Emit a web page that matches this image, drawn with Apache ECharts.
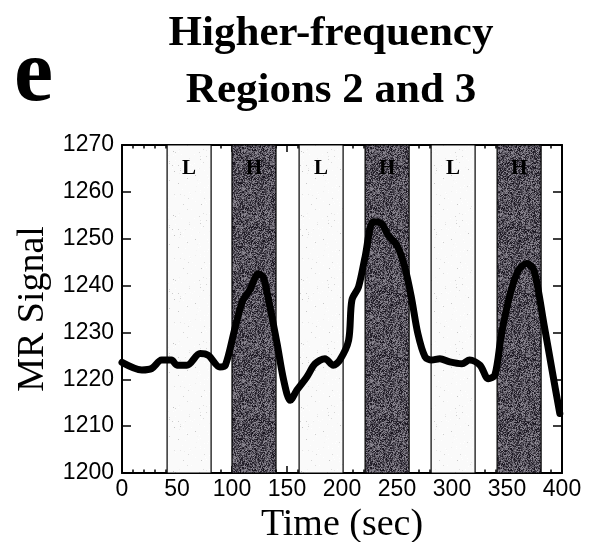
<!DOCTYPE html>
<html>
<head>
<meta charset="utf-8">
<script src="https://cdn.jsdelivr.net/npm/echarts@6/dist/echarts.min.js"></script>
<style>html,body{margin:0;padding:0;background:#fff}#c{width:591px;height:542px}</style>
</head>
<body>
<div id="c"></div>
<script>
// ---- data ----
var time = [0, 18, 27, 36, 45, 50, 59, 71, 78.5, 89, 94, 103, 110, 116, 124, 128.5, 134.5, 141, 147, 153, 159, 168, 175.5, 184.5, 192, 198, 206, 209, 215, 221, 228.5, 236, 242, 250, 257, 263, 269, 275.5, 281.5, 289, 298, 309, 316, 325.5, 333, 339, 345, 353, 360.5, 368, 374.5, 383.5, 391, 398];
var signal = [1223.6, 1222.0, 1222.3, 1224.1, 1224.1, 1223.0, 1223.0, 1225.5, 1225.1, 1222.6, 1223.0, 1231.2, 1236.9, 1239.0, 1242.5, 1241.8, 1235.4, 1227.6, 1219.8, 1215.5, 1217.7, 1220.5, 1223.3, 1224.4, 1223.0, 1224.1, 1228.3, 1236.9, 1239.7, 1246.1, 1253.6, 1253.2, 1250.7, 1248.6, 1244.0, 1237.6, 1229.7, 1224.8, 1224.1, 1224.4, 1223.7, 1223.3, 1224.1, 1223.0, 1220.1, 1220.9, 1229.7, 1238.3, 1243.3, 1244.7, 1243.3, 1231.9, 1221.9, 1212.7];
var bandLabels = ['L', 'H', 'L', 'H', 'L', 'H'];
var bandStart = [41, 100, 161, 221, 281, 341];
var bandEnd = [81, 140, 201, 261, 321, 381];
var yTicks = [1200, 1210, 1220, 1230, 1240, 1250, 1260, 1270];
var xTicks = [0, 50, 100, 150, 200, 250, 300, 350, 400];

// ---- textures (deterministic) ----
function makeTexture(base, spread, density, tint) {
  var cv = document.createElement('canvas');
  cv.width = 64; cv.height = 64;
  var ctx = cv.getContext('2d');
  var img = ctx.createImageData(64, 64);
  var s = 12345;
  for (var i = 0; i < 64 * 64; i++) {
    s = (s * 1103515245 + 12345) & 0x7fffffff;
    var r = (s % 1000) / 1000;
    var v = base;
    if (r < density) {
      s = (s * 1103515245 + 12345) & 0x7fffffff;
      v = base + ((s % 1000) / 1000 - 0.5) * 2 * spread;
    }
    var cl = function (x) { return Math.max(0, Math.min(255, Math.round(x))); };
    img.data[i * 4] = cl(v + tint[0]); img.data[i * 4 + 1] = cl(v + tint[1]); img.data[i * 4 + 2] = cl(v + tint[2]); img.data[i * 4 + 3] = 255;
  }
  ctx.putImageData(img, 0, 0);
  return cv;
}
var darkTex = makeTexture(84, 65, 1.0, [0, -4, 6]);
var lightTex = makeTexture(250, 60, 0.04, [0, 0, 0]);

var chart = echarts.init(document.getElementById('c'), null, {renderer: 'canvas'});

var areas = bandLabels.map(function (lab, i) {
  var dark = lab === 'H';
  return [{
    xAxis: bandStart[i],
    name: lab,
    itemStyle: {
      color: {image: dark ? darkTex : lightTex, repeat: 'repeat'},
      borderColor: '#000', borderWidth: 1.2, opacity: 1
    }
  }, {xAxis: bandEnd[i]}];
});

var serif = '"Liberation Serif", "DejaVu Serif", serif';
var sans = '"Liberation Sans", Arial, sans-serif';

var xAxisCommon = {
  type: 'value', min: 0, max: 400, interval: 50,
  axisLine: {show: true, onZero: false, lineStyle: {color: '#000', width: 2}},
  axisTick: {show: true, inside: true, length: 7, lineStyle: {color: '#000', width: 1.5}},
  minorTick: {show: true, splitNumber: 5, length: 3.5, lineStyle: {color: '#000', width: 1.5}},
  splitLine: {show: false}
};
var yAxisCommon = {
  type: 'value', min: 1200, max: 1270, interval: 10,
  axisLine: {show: true, onZero: false, lineStyle: {color: '#000', width: 2}},
  axisTick: {show: true, inside: true, length: 9, lineStyle: {color: '#000', width: 1.5}},
  splitLine: {show: false}
};

chart.setOption({
  animation: false,
  backgroundColor: '#fff',
  grid: {left: 122, right: 29, top: 145, bottom: 69, containLabel: false, outerBoundsMode: 'none'},
  graphic: [
    {type: 'text', x: 14, y: 33, style: {text: 'e', font: 'bold 88px ' + serif, fill: '#000'}},
    {type: 'text', x: 331, y: 12, style: {text: 'Higher-frequency', align: 'center', font: 'bold 43px ' + serif, fill: '#000'}},
    {type: 'text', x: 331, y: 69, style: {text: 'Regions 2 and 3', align: 'center', font: 'bold 43px ' + serif, fill: '#000'}}
  ],
  xAxis: [
    Object.assign({}, xAxisCommon, {
      position: 'bottom',
      axisLabel: {show: true, color: '#000', fontFamily: sans, fontSize: 23, margin: 5},
      name: 'Time (sec)', nameLocation: 'middle', nameGap: 25,
      nameTextStyle: {fontFamily: serif, fontSize: 38, color: '#000'}
    }),
    Object.assign({}, xAxisCommon, {position: 'top', axisLabel: {show: false}})
  ],
  yAxis: [
    Object.assign({}, yAxisCommon, {
      position: 'left',
      axisLabel: {show: true, color: '#000', fontFamily: sans, fontSize: 23, margin: 8,
        formatter: function (v) { return String(v); }},
      name: 'MR Signal', nameLocation: 'middle', nameGap: 66,
      nameTextStyle: {fontFamily: serif, fontSize: 38, color: '#000'}
    }),
    Object.assign({}, yAxisCommon, {position: 'right', axisLabel: {show: false}})
  ],
  series: [{
    type: 'line',
    xAxisIndex: 0, yAxisIndex: 0,
    data: time.map(function (t, i) { return [t, signal[i]]; }),
    smooth: 0.3,
    symbol: 'none',
    lineStyle: {color: '#000', width: 7, cap: 'round', join: 'round'},
    z: 5,
    markArea: {
      silent: true,
      label: {show: true, position: 'insideTop', distance: 14, color: '#000',
        fontFamily: serif, fontWeight: 'bold', fontSize: 21},
      data: areas
    }
  }]
});
</script>
</body>
</html>
